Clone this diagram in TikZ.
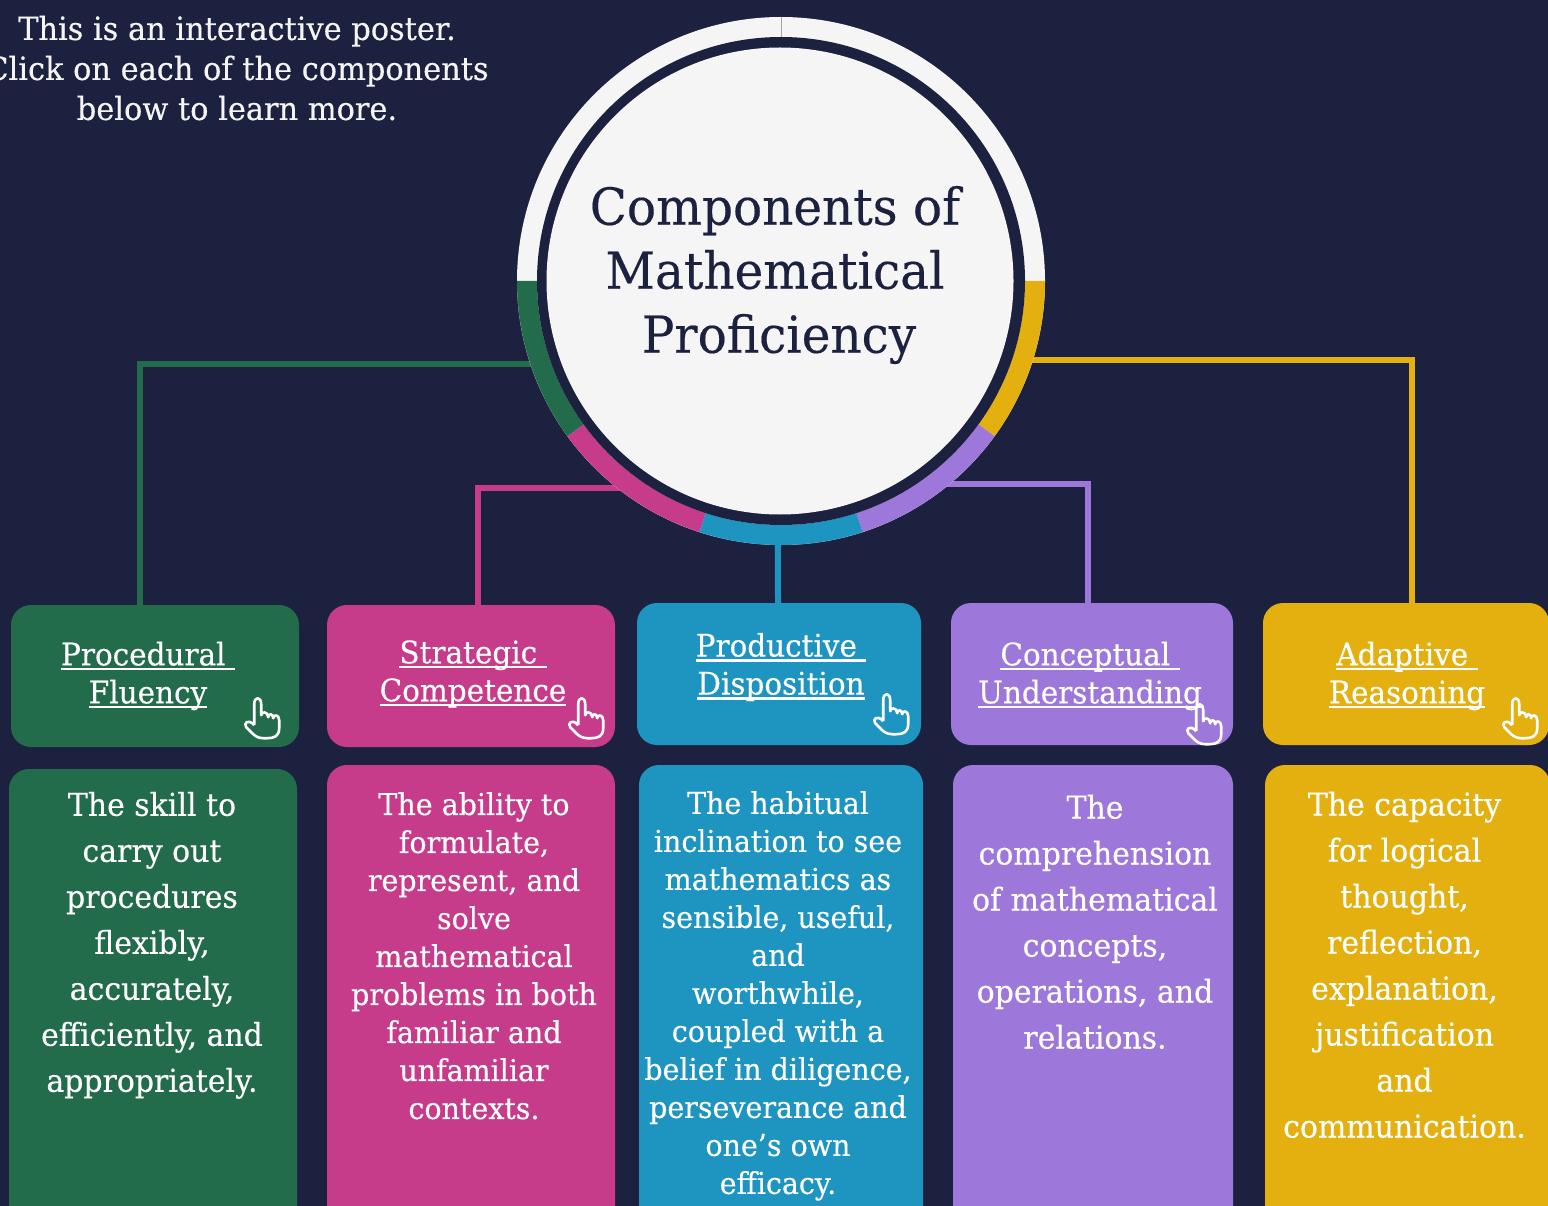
\documentclass[tikz,border=0pt]{standalone}
\usepackage{fontspec}
\setmainfont{DejaVu Serif}[FakeStretch=0.95,FakeBold=0.35]
\usetikzlibrary{calc,positioning}
\definecolor{navy}{HTML}{1D2140}
\definecolor{paper}{HTML}{F5F5F5}
\definecolor{pfgreen}{HTML}{226B4B}
\definecolor{scpink}{HTML}{C73B8B}
\definecolor{pdblue}{HTML}{1E94C1}
\definecolor{cupurple}{HTML}{9E77DA}
\definecolor{aryellow}{HTML}{E3B00F}
\newcommand{\hdline}[1]{\setbox0=\hbox{#1}\rlap{\raisebox{-5pt}{\rule{\wd0}{2.2pt}}}\box0}
\tikzset{%
	headbox/.style  = {rectangle, rounded corners=20pt, minimum height=142pt}, % Component
	bodybox/.style  = {rectangle, rounded corners=20pt, minimum height=480pt}, % Definition
	headtext/.style = {text=white, align=center, font=\fontsize{31}{38}\selectfont},
	widetext/.style = {text=white, align=center, font=\fontsize{31.5}{46}\selectfont},
	bodytext/.style = {text=white, align=center, font=\fontsize{30}{38}\selectfont},
	link/.style     = {line width=6pt},
	hand/.pic = {
		\draw[white,line width=2.6pt,line join=round,fill=none] (-8,7) -- (-8,-14) .. controls (-8,-22) and (-1,-22) .. (-1,-14) -- (-1,-3)
		.. controls (-1,-7) and (6,-7) .. (6,-1) .. controls (6,-5) and (11,-5) .. (11,0) .. controls (11,-4) and (17,-4) .. (17,2) -- (17,10)
		.. controls (17,18) and (12,20) .. (5,20) -- (1,20) .. controls (-5,20) and (-8,17) .. (-11,14) -- (-16,9) .. controls (-19,5) and (-14,0) .. (-8,7);
	},
}
\begin{document}
\begin{tikzpicture}[x=1pt,y=-1pt]
	\useasboundingbox (0,0) rectangle (1548,1206);
	\clip (0,0) rectangle (1548,1206);
	\fill[navy] (0,0) rectangle (1548,1206);
	
	\node [headbox,fill=pfgreen,minimum width=288pt] (pf) at (155,676) {};
	\node [headbox,fill=scpink,minimum width=288pt] (sc) [right of=pf,node distance=316pt] {};
	\node [headbox,fill=pdblue,minimum width=284pt] (pd) [right of=sc,node distance=308pt,yshift=2pt] {};
	\node [headbox,fill=cupurple,minimum width=282pt] (cu) [right of=pd,node distance=313pt] {};
	\node [headbox,fill=aryellow,minimum width=286pt] (ar) [right of=cu,node distance=314pt] {};
	
	\node [bodybox,fill=pfgreen,minimum width=288pt] (pfbody) [below of=pf,node distance=333pt,xshift=-2pt] {};
	\node [bodybox,fill=scpink,minimum width=288pt] (scbody) [below of=sc,node distance=329pt] {};
	\node [bodybox,fill=pdblue,minimum width=284pt] (pdbody) [below of=pd,node distance=331pt,xshift=2pt] {};
	\node [bodybox,fill=cupurple,minimum width=280pt] (cubody) [below of=cu,node distance=331pt,xshift=1pt] {};
	\node [bodybox,fill=aryellow,minimum width=285pt] (arbody) [below of=ar,node distance=331pt,xshift=1.5pt] {};
	
	\coordinate (ringc) at (781,281);
	\draw[link,pfgreen] ($(ringc)+(-161:254pt)$) -| ([xshift=-15pt]pf.north);
	\draw[link,scpink] ($(ringc)+(-125.4:254pt)$) -| ([xshift=7pt]sc.north);
	\draw[link,pdblue] ($(ringc)+(-90.7:254pt)$) -- ([xshift=-1pt]pd.north);
	\draw[link,cupurple] ($(ringc)+(-53:254pt)$) -| ([xshift=-4pt]cu.north);
	\draw[link,aryellow] ($(ringc)+(-18.1:254pt)$) -| ([xshift=6pt]ar.north);
	
	\node [circle,fill=paper,inner sep=0pt,minimum size=528pt] (ring) at (ringc) {};
	\foreach \ringcol [count=\i from 0] in {aryellow,cupurple,pdblue,scpink,pfgreen}{
		\fill[\ringcol] ($(ringc)+({-36*\i}:264pt)$) arc[start angle={-36*\i},delta angle=-36,radius=264pt]
		-- ($(ringc)+({-36*(\i+1)}:244pt)$) arc[start angle={-36*(\i+1)},delta angle=36,radius=244pt] -- cycle;
	}
	\node [circle,fill=navy,inner sep=0pt,minimum size=488pt] (hole) at (ringc) {};
	\draw[gray!70,thin] (ring.north) -- (hole.north);
	\node [circle,fill=paper,text=navy,inner sep=0pt,minimum size=467pt] (disc) at (780,281) {};
	\node [text=navy,align=center,font=\fontsize{51}{64}\selectfont] (title) at (775,275) {Components of\\Mathematical\\\hspace*{8pt}Proficiency};
	
	\node [text=paper,align=center,font=\fontsize{32}{40}\selectfont] (note) at (237,68) {This is an interactive poster.\\Click on each of the components\\below to learn more.};
	
	\node [headtext] (pflab) at ([shift={(-7pt,0pt)}]pf.center) {\hdline{Procedural\ }\\\hdline{Fluency}};
	\node [headtext] (sclab) at ([shift={(2pt,2pt)}]sc.center) {\hdline{Strategic\ }\\\hdline{Competence}};
	\node [headtext] (pdlab) at ([shift={(2pt,7pt)}]pd.center) {\hdline{Productive\ }\\\hdline{Disposition}};
	\node [headtext] (culab) at ([shift={(-2pt,-2pt)}]cu.center) {\hdline{Conceptual\ }\\\hdline{Understanding}};
	\node [headtext] (arlab) at ([shift={(1pt,-2pt)}]ar.center) {\hdline{Adaptive\ }\\\hdline{Reasoning}};
	
	\node [widetext] (pftxt) at ([shift={(-1pt,-176.5pt)}]pfbody.north) {The skill to\\carry out\\procedures\\flexibly,\\accurately,\\efficiently, and\\appropriately.};
	\node [bodytext] (sctxt) at ([shift={(3pt,-191pt)}]scbody.north) {The ability to\\formulate,\\represent, and\\solve\\mathematical\\problems in both\\familiar and\\unfamiliar\\contexts.};
	\node [bodytext] (pdtxt) at ([shift={(-3pt,-231pt)}]pdbody.north) {The habitual\\inclination to see\\mathematics as\\sensible, useful,\\and\\worthwhile,\\coupled with a\\belief in diligence,\\perseverance and\\one’s own\\efficacy.};
	\node [widetext] (cutxt) at ([shift={(2pt,-157pt)}]cubody.north) {The\\comprehension\\of mathematical\\concepts,\\operations, and\\relations.};
	\node [widetext] (artxt) at ([shift={(-3pt,-200pt)}]arbody.north) {The capacity\\for logical\\thought,\\reflection,\\explanation,\\justification\\and\\communication.};
	
	\pic at ([shift={(-37pt,29pt)}]pf.south east) {hand};
	\pic at ([shift={(-29pt,29pt)}]sc.south east) {hand};
	\pic at ([shift={(-30pt,31pt)}]pd.south east) {hand};
	\pic at ([shift={(-29pt,21pt)}]cu.south east) {hand};
	\pic at ([shift={(-29pt,27pt)}]ar.south east) {hand};
\end{tikzpicture}
\end{document}
